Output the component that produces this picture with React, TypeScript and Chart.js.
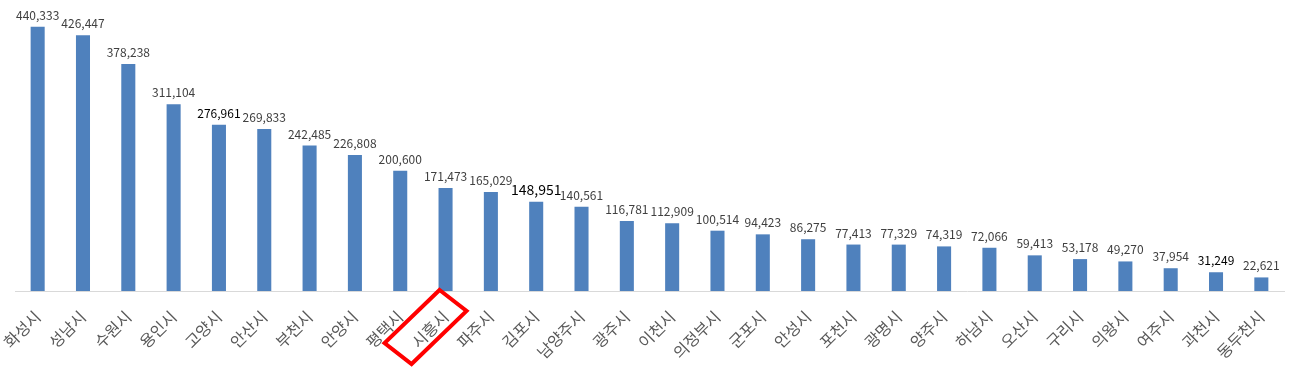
import React, { useEffect, useRef } from "react";
import { Chart, registerables } from "chart.js";

Chart.register(...registerables);

const categories = [
  "화성시", "성남시", "수원시", "용인시", "고양시", "안산시", "부천시", "안양시", "평택시", "시흥시",
  "파주시", "김포시", "남양주시", "광주시", "이천시", "의정부시", "군포시", "안성시", "포천시", "광명시",
  "양주시", "하남시", "오산시", "구리시", "의왕시", "여주시", "과천시", "동두천시",
];

const values = [
  440333, 426447, 378238, 311104, 276961, 269833, 242485, 226808, 200600, 171473,
  165029, 148951, 140561, 116781, 112909, 100514, 94423, 86275, 77413, 77329,
  74319, 72066, 59413, 53178, 49270, 37954, 31249, 22621,
];

const highlightedCategory = "시흥시";
const darkLabelIndices = [4, 11, 26];
const largeLabelIndices = [11];

const FONT = '"Noto Sans CJK KR", "Noto Sans", sans-serif';

const overlayPlugin = {
  id: "overlay",
  afterDraw(chart: any) {
    const ctx = chart.ctx;
    const meta = chart.getDatasetMeta(0);
    ctx.save();
    ctx.textAlign = "center";
    ctx.textBaseline = "alphabetic";
    meta.data.forEach((bar: any, i: number) => {
      const large = largeLabelIndices.includes(i);
      const dark = darkLabelIndices.includes(i);
      ctx.font = `${large ? 14 : 12}px ${FONT}`;
      ctx.fillStyle = dark ? "#000000" : "#404040";
      ctx.fillText(values[i].toLocaleString("en-US"), bar.x, bar.y - 7);
    });
    const xs = chart.scales.x;
    const idx = categories.indexOf(highlightedCategory);
    const cx = xs.getPixelForValue(idx);
    const ay = xs.top;
    ctx.strokeStyle = "#FF0000";
    ctx.lineWidth = 4;
    ctx.lineJoin = "miter";
    ctx.beginPath();
    ctx.moveTo(cx - 6, ay - 1);
    ctx.lineTo(cx + 21, ay + 20);
    ctx.lineTo(cx - 34, ay + 73);
    ctx.lineTo(cx - 61, ay + 52);
    ctx.closePath();
    ctx.stroke();
    ctx.restore();
  },
};

export default function App() {
  const ref = useRef<HTMLCanvasElement>(null);
  useEffect(() => {
    if (!ref.current) return;
    const chart = new Chart(ref.current, {
      type: "bar",
      data: {
        labels: categories,
        datasets: [
          {
            data: values,
            backgroundColor: "#4F81BD",
            barPercentage: 0.31,
            categoryPercentage: 1,
          },
        ],
      },
      options: {
        responsive: false,
        animation: false,
        layout: { padding: { left: 15, right: 12, top: 0, bottom: 0 } },
        plugins: { legend: { display: false }, tooltip: { enabled: false } },
        scales: {
          x: {
            grid: { display: false, drawTicks: false },
            border: { display: true, color: "#D9D9D9", width: 1 },
            ticks: {
              minRotation: 45,
              maxRotation: 45,
              autoSkip: false,
              padding: 16,
              color: "#595959",
              font: { family: FONT, size: 16 },
            },
            afterFit: (scale: any) => {
              scale.paddingLeft = 0;
              scale.paddingRight = 0;
              scale.height = 83;
            },
          },
          y: { display: false, min: 0, max: 485000 },
        },
      },
      plugins: [overlayPlugin],
    });
    return () => chart.destroy();
  }, []);
  return (
    <div style={{ position: "absolute", left: 0, top: 0, width: 1296, height: 374, background: "#fff" }}>
      <canvas ref={ref} width={1296} height={374} />
    </div>
  );
}
